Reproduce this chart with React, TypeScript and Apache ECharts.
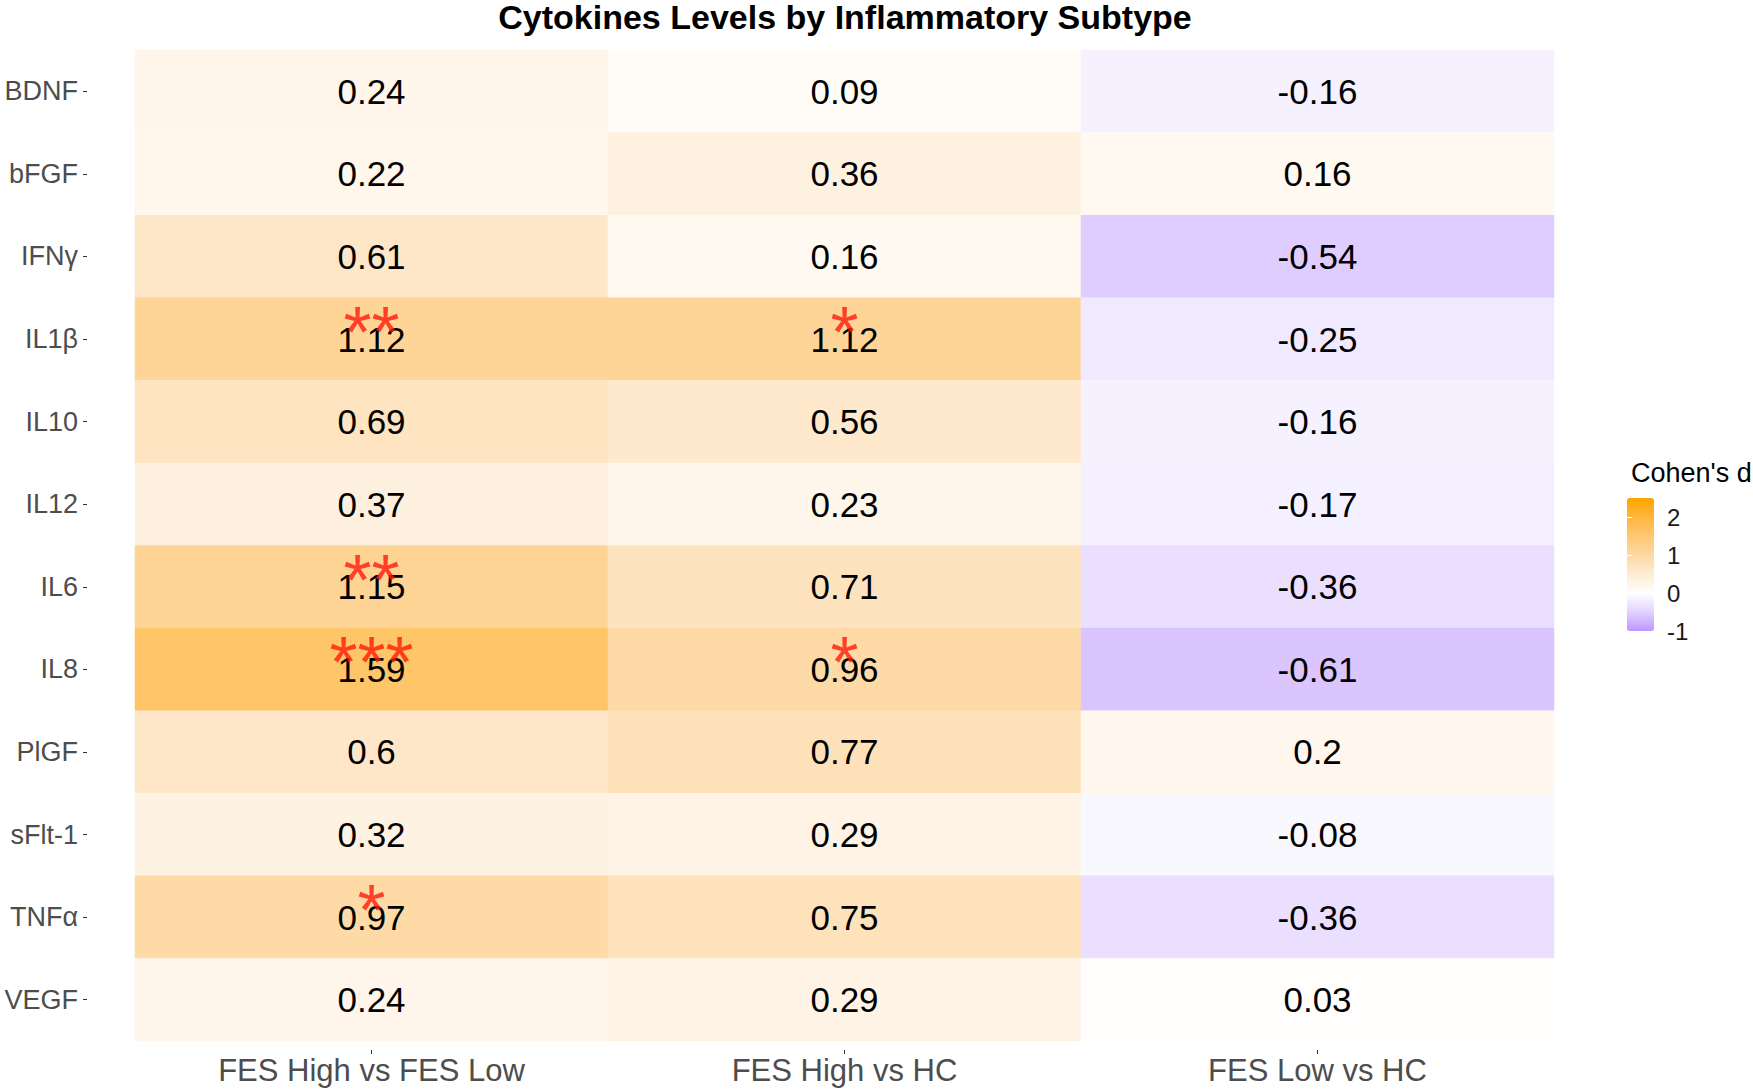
import React, { useEffect, useRef } from 'react';
import * as echarts from 'echarts';

const cytokines = ['BDNF', 'bFGF', 'IFNγ', 'IL1β', 'IL10', 'IL12', 'IL6', 'IL8', 'PlGF', 'sFlt-1', 'TNFα', 'VEGF'];
const comparisons = ['FES High vs FES Low', 'FES High vs HC', 'FES Low vs HC'];

const highVsLow = [0.24, 0.22, 0.61, 1.12, 0.69, 0.37, 1.15, 1.59, 0.6, 0.32, 0.97, 0.24];
const highVsHC = [0.09, 0.36, 0.16, 1.12, 0.56, 0.23, 0.71, 0.96, 0.77, 0.29, 0.75, 0.29];
const lowVsHC = [-0.16, 0.16, -0.54, -0.25, -0.16, -0.17, -0.36, -0.61, 0.2, -0.08, -0.36, 0.03];

const starsHighVsLow = ['', '', '', '**', '', '', '**', '***', '', '', '*', ''];
const starsHighVsHC = ['', '', '', '*', '', '', '', '*', '', '', '', ''];
const starsLowVsHC = ['', '', '', '', '', '', '', '', '', '', '', ''];

const legendTicks = [-1, 0, 1, 2];
const colorMin = -1;
const colorMax = 2.5;
// colours at -1, -0.5, 0, 0.5, 1, 1.5, 2, 2.5
const gradientColors = ['#BC96FF', '#E2D2FF', '#FFFFFF', '#FEEBD3', '#FED9A3', '#FFC872', '#FFB63E', '#FFA500'];

const FONT = '"Liberation Sans", Arial, Helvetica, sans-serif';

export default function App() {
  const ref = useRef<HTMLDivElement>(null);

  useEffect(() => {
    if (!ref.current) return;
    const chart = echarts.init(ref.current, null, { renderer: 'svg' });

    const columns = [highVsLow, highVsHC, lowVsHC];
    const starCols = [starsHighVsLow, starsHighVsHC, starsLowVsHC];
    const heatData: any[] = [];
    const starData: any[] = [];
    columns.forEach((col, c) => {
      col.forEach((v, r) => {
        heatData.push([c, r, v]);
        const s = starCols[c][r];
        if (s) starData.push({ name: s, value: [c, r] });
      });
    });

    const option: any = {
      animation: false,
      textStyle: { fontFamily: FONT },
      title: [
        {
          text: 'Cytokines Levels by Inflammatory Subtype',
          left: 845,
          top: 0,
          padding: 0,
          textAlign: 'center',
          textStyle: { fontSize: 34, fontWeight: 'bold', color: '#000', fontFamily: FONT },
        },
        {
          text: "Cohen's d",
          left: 1626,
          top: 454,
          textStyle: { fontSize: 27, fontWeight: 'normal', color: '#000', fontFamily: FONT },
        },
      ],
      grid: [
        { left: 135, top: 50, width: 1419, height: 991, containLabel: false },
        { left: 1627, top: 498, width: 27, height: 133, containLabel: false },
      ],
      xAxis: [
        {
          type: 'category',
          gridIndex: 0,
          data: comparisons,
          position: 'bottom',
          offset: 9,
          axisLine: { show: false },
          axisTick: { show: true, alignWithLabel: true, length: 4, lineStyle: { color: '#333', width: 1 } },
          axisLabel: { fontSize: 31, color: '#4D4D4D', margin: 5, fontFamily: FONT },
          splitLine: { show: false },
        },
        {
          type: 'value',
          gridIndex: 1,
          min: 0,
          max: 1,
          show: false,
        },
      ],
      yAxis: [
        {
          type: 'category',
          gridIndex: 0,
          data: cytokines,
          inverse: true,
          offset: 48,
          axisLine: { show: false },
          axisTick: { show: true, alignWithLabel: true, length: 4, lineStyle: { color: '#333', width: 1 } },
          axisLabel: { fontSize: 27, color: '#4D4D4D', margin: 9, fontFamily: FONT },
          splitLine: { show: false },
        },
        {
          type: 'value',
          gridIndex: 1,
          position: 'right',
          min: colorMin,
          max: colorMax,
          z: 10,
          axisLine: { show: false },
          axisTick: { show: true, inside: true, length: 5, customValues: legendTicks, lineStyle: { color: '#FFFFFF', width: 1 } },
          axisLabel: { show: true, customValues: legendTicks, fontSize: 24, color: '#1A1A1A', margin: 13, fontFamily: FONT },
          splitLine: { show: false },
        },
        {
          type: 'value',
          gridIndex: 1,
          position: 'left',
          min: colorMin,
          max: colorMax,
          z: 10,
          axisLine: { show: false },
          axisTick: { show: true, inside: true, length: 5, customValues: legendTicks, lineStyle: { color: '#FFFFFF', width: 1 } },
          axisLabel: { show: false },
          splitLine: { show: false },
        },
      ],
      visualMap: {
        type: 'continuous',
        seriesIndex: 0,
        min: colorMin,
        max: colorMax,
        calculable: false,
        orient: 'vertical',
        left: 1627,
        top: 498,
        itemWidth: 27,
        itemHeight: 133,
        padding: 0,
        text: null,
        showLabel: false,
        inRange: { color: gradientColors },
        hoverLink: false,
      },
      series: [
        {
          type: 'heatmap',
          xAxisIndex: 0,
          yAxisIndex: 0,
          data: heatData,
          label: {
            show: true,
            fontSize: 35,
            color: '#000',
            fontFamily: FONT,
            formatter: (p: any) => String(p.value[2]),
          },
          emphasis: { disabled: true },
          itemStyle: { borderWidth: 0 },
        },
        {
          type: 'scatter',
          xAxisIndex: 0,
          yAxisIndex: 0,
          data: starData,
          symbolSize: 1,
          itemStyle: { color: 'rgba(0,0,0,0)' },
          z: 5,
          label: {
            show: true,
            position: 'inside',
            offset: [0, -7],
            fontSize: 72,
            color: '#FF1A0A',
            fontFamily: FONT,
            formatter: (p: any) => p.name,
          },
          emphasis: { disabled: true },
        },
      ],
    };

    chart.setOption(option);
    return () => chart.dispose();
  }, []);

  return (
    <div
      ref={ref}
      style={{ position: 'absolute', left: 0, top: 0, width: 1753, height: 1089, background: '#fff' }}
    />
  );
}
